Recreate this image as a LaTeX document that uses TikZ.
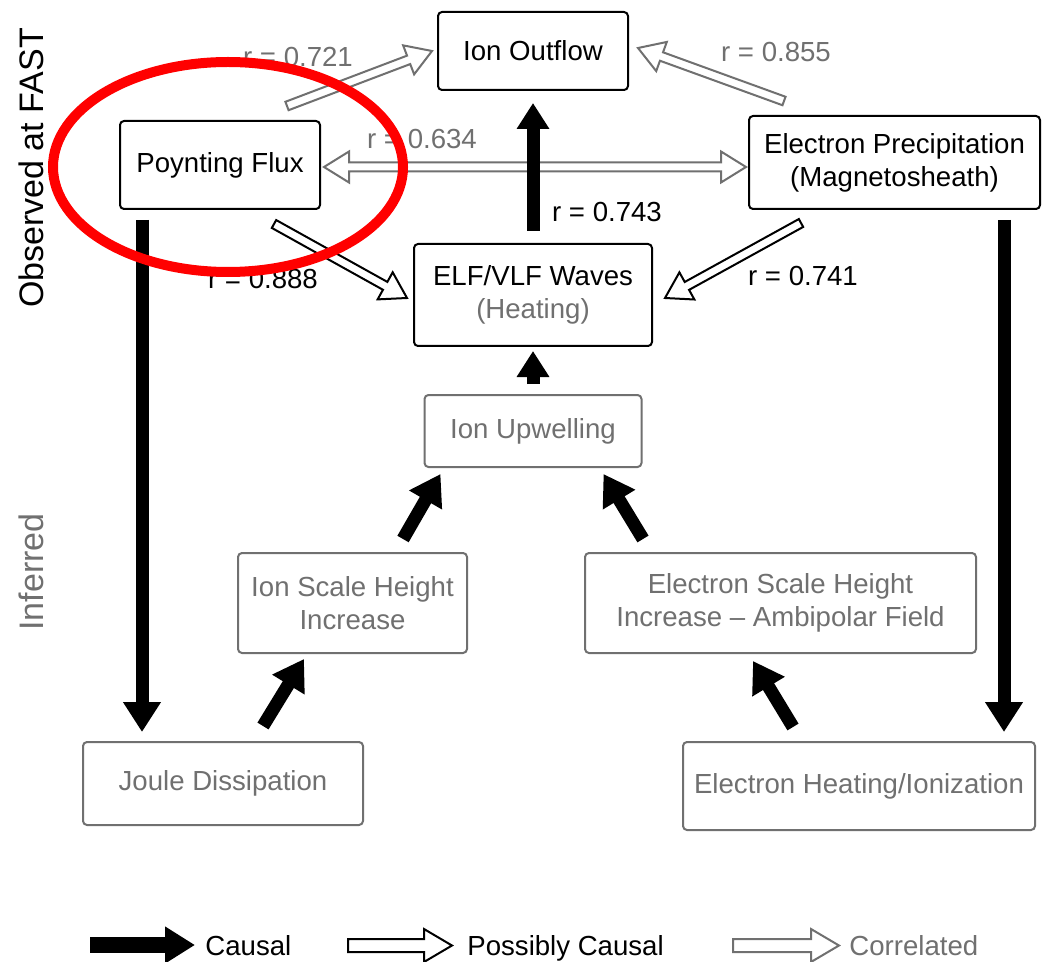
\documentclass[tikz,border=0pt]{standalone}
\usepackage{fontspec}
\setmainfont{Liberation Sans}
\usepackage{tikz}
\usetikzlibrary{arrows.meta,calc,positioning}
\definecolor{infgray}{RGB}{112,112,112}

\newcommand{\shafthw}{2.25pt}
\newcommand{\headhw}{7.75pt}
\newcommand{\headlen}{12.5pt}

\newcommand{\blockarrow}[3][]{%
  \path (#2) coordinate (ba-a) (#3) coordinate (ba-b)
    ($(ba-b)!\headlen!(ba-a)$) coordinate (ba-n);
  \draw[#1] ($(ba-a)!\shafthw!90:(ba-b)$) -- ($(ba-n)!\shafthw!90:(ba-b)$)
    -- ($(ba-n)!\headhw!90:(ba-b)$) -- (ba-b) -- ($(ba-n)!\headhw!-90:(ba-b)$)
    -- ($(ba-n)!\shafthw!-90:(ba-b)$) -- ($(ba-a)!\shafthw!-90:(ba-b)$) -- cycle;
}
\newcommand{\blockarrowboth}[3][]{%
  \path (#2) coordinate (ba-a) (#3) coordinate (ba-b)
    ($(ba-b)!\headlen!(ba-a)$) coordinate (ba-n)
    ($(ba-a)!\headlen!(ba-b)$) coordinate (ba-m);
  \draw[#1] (ba-a) -- ($(ba-m)!\headhw!-90:(ba-a)$) -- ($(ba-m)!\shafthw!-90:(ba-a)$)
    -- ($(ba-n)!\shafthw!90:(ba-b)$) -- ($(ba-n)!\headhw!90:(ba-b)$) -- (ba-b)
    -- ($(ba-n)!\headhw!-90:(ba-b)$) -- ($(ba-n)!\shafthw!-90:(ba-b)$)
    -- ($(ba-m)!\shafthw!90:(ba-a)$) -- ($(ba-m)!\headhw!90:(ba-a)$) -- cycle;
}

\begin{document}
\begin{tikzpicture}[x=0.5pt, y=-0.5pt, font=\fontsize{13.8}{16.5}\selectfont]
\tikzstyle{obsbox}=[draw=black, line width=1pt, rounded corners=2pt, align=center, text=black]
\tikzstyle{infbox}=[draw=infgray, line width=1pt, rounded corners=2pt, align=center, text=infgray]
\tikzstyle{causal}=[line width=6.5pt, -{Triangle[width=18pt,length=15pt]}]
\tikzstyle{causalshort}=[line width=6.5pt, -{Triangle[width=15.5pt,length=13pt]}]
\tikzstyle{possible}=[draw=black, fill=white, line width=1pt]
\tikzstyle{correlated}=[draw=infgray, fill=white, line width=1pt]
\tikzstyle{rlabel}=[inner sep=0pt]
\tikzstyle{side}=[rotate=90, inner sep=0pt, font=\fontsize{17}{20}\selectfont]

\useasboundingbox[fill=white] (0,0) rectangle (1043,962);

\node[side] (obs) at (31,168) {Observed at FAST};
\node[side, text=infgray] (inf) at (31,572) {Inferred};

\node[obsbox, minimum width=95pt, minimum height=39pt] (io) at (533,51) {Ion Outflow};
\node[obsbox, minimum width=100pt, minimum height=44pt] (pf) at (220,165) {Poynting Flux};
\node[obsbox, minimum width=145.5pt, minimum height=46.5pt] (ep) at (894.5,162.5) {Electron Precipitation\\(Magnetosheath)};
\node[obsbox, minimum width=119pt, minimum height=51pt] (elf) [below of=io, node distance=122pt] {ELF/VLF Waves\\\textcolor{infgray}{(Heating)}};
\node[infbox, minimum width=108.5pt, minimum height=36pt] (iu) [below of=elf, node distance=68pt] {Ion Upwelling};
\node[infbox, minimum width=114.5pt, minimum height=50pt] (ish) at (352.5,603) {Ion Scale Height\\Increase};
\node[infbox, minimum width=195.5pt, minimum height=50pt] (esh) [right of=ish, node distance=214pt] {Electron Scale Height\\Increase -- Ambipolar Field};
\node[infbox, minimum width=140pt, minimum height=41.5pt] (jd) at (223,783.5) {Joule Dissipation};
\node[infbox, minimum width=176pt, minimum height=44pt] (eh) at (859,786) {Electron Heating/Ionization};

\node[rlabel, text=infgray] (r721) at (298,57) {r = 0.721};
\node[rlabel, text=infgray] (r855) at (776,52) {r = 0.855};
\node[rlabel, text=infgray] (r634) at (422,139) {r = 0.634};
\node[rlabel] (r743) at (607,212) {r = 0.743};
\node[rlabel] (r741) at (803,276) {r = 0.741};
\node[rlabel] (r888) at (263,279) {r = 0.888};

\blockarrow[correlated]{[xshift=-17pt,yshift=7pt]pf.north east}{[xshift=-2.5pt]io.west}
\blockarrow[correlated]{[xshift=18pt,yshift=7pt]ep.north west}{[xshift=4.5pt,yshift=1.5pt]io.east}
\coordinate (dl) at ([xshift=1.5pt,yshift=-1pt]pf.east);
\coordinate (dr) at ([xshift=-1pt]dl -| ep.west);
\blockarrowboth[correlated]{dl}{dr}
\blockarrow[possible]{[xshift=-23.5pt,yshift=-7pt]pf.south east}{[xshift=-3pt,yshift=-1.5pt]elf.west}
\blockarrow[possible]{[xshift=26.5pt,yshift=-6.5pt]ep.south west}{[xshift=6pt,yshift=-1.5pt]elf.east}

\coordinate (c1) at ([xshift=11.5pt,yshift=-5pt]pf.south west);
\coordinate (c2) at ([xshift=-18.5pt,yshift=-5pt]ep.south east);
\path[causal] (c1) edge ([yshift=4.5pt]c1 |- jd.north);
\path[causal] (c2) edge ([yshift=4.5pt]c2 |- eh.north);
\path[causalshort] ([yshift=6pt]elf.north) edge ([yshift=-6pt]io.south);
\path[causalshort] ([yshift=5pt]iu.north) edge ([yshift=-2pt]elf.south);
\path[causal] ([xshift=20pt,yshift=7.5pt]jd.north) edge ([xshift=-24.25pt,yshift=-2.5pt]ish.south);
\path[causal] ([xshift=25.25pt,yshift=6.5pt]ish.north) edge ([xshift=-46.25pt,yshift=-3pt]iu.south);
\path[causal] ([xshift=-68.75pt,yshift=6.5pt]esh.north) edge ([xshift=35.25pt,yshift=-3pt]iu.south);
\path[causal] ([xshift=-33pt,yshift=7pt]eh.north) edge ([xshift=-13.75pt,yshift=-3.5pt]esh.south);

\draw[red, line width=5pt] (228,167) ellipse [x radius=87.5pt, y radius=52.5pt];

\node[rlabel, anchor=base west] (lgcausal) at (205,955) {Causal};
\node[rlabel, anchor=base west] (lgposs) at (467,955) {Possibly Causal};
\node[rlabel, anchor=base west, text=infgray] (lgcorr) at (849,955) {Correlated};
\coordinate (lg1) at (90,945);
\coordinate (lg2) at (348,945.5);
\coordinate (lg3) at (733,945.5);
\draw[line width=8pt, -{Triangle[width=17.5pt,length=15pt]}] (lg1) -- ([xshift=-5pt]lg1 -| lgcausal.west);
\begin{scope}
\renewcommand{\shafthw}{3.25pt}
\renewcommand{\headhw}{8.25pt}
\renewcommand{\headlen}{14pt}
\blockarrow[possible]{lg2}{[xshift=-7.5pt]lg2 -| lgposs.west}
\blockarrow[correlated]{lg3}{[xshift=-5pt]lg3 -| lgcorr.west}
\end{scope}
\end{tikzpicture}
\end{document}
